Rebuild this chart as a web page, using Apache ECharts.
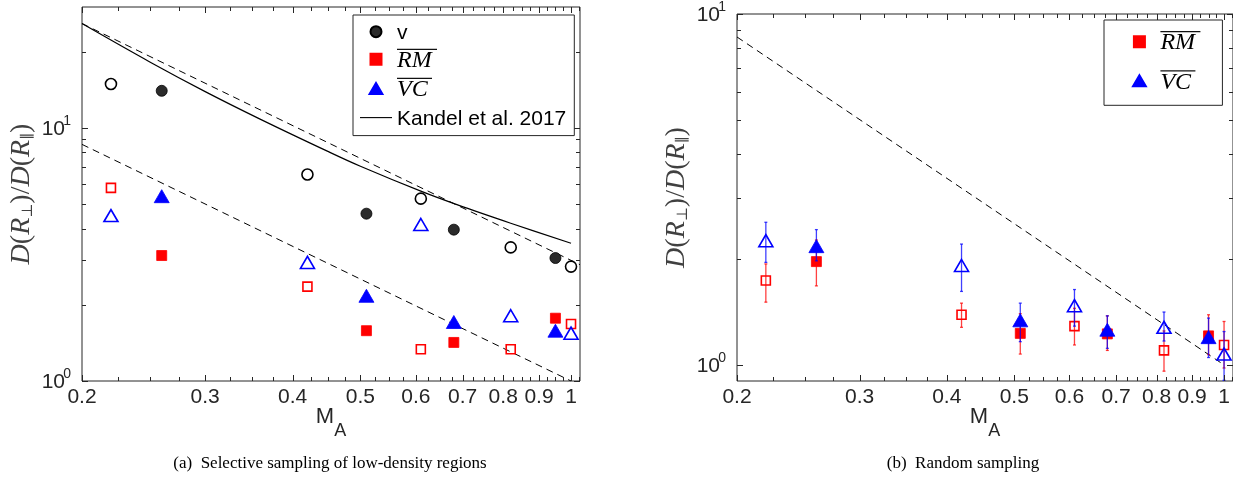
<!DOCTYPE html>
<html><head><meta charset="utf-8">
<script src="https://cdn.jsdelivr.net/npm/echarts@6/dist/echarts.min.js"></script>
<style>html,body{margin:0;padding:0;background:#fff}#c{width:1233px;height:484px}</style>
</head><body><div id="c"></div>
<script>
// ---------- ticks ----------
const xTickValues = [0.2, 0.3, 0.4, 0.5, 0.6, 0.7, 0.8, 0.9, 1];
const xTickLabels = ['0.2', '0.3', '0.4', '0.5', '0.6', '0.7', '0.8', '0.9', '1'];
const xMinorTicks = [0.225, 0.25, 0.275, 0.325, 0.35, 0.375, 0.425, 0.45, 0.475, 0.525, 0.55, 0.575,
  0.625, 0.65, 0.675, 0.725, 0.75, 0.775, 0.825, 0.85, 0.875, 0.925, 0.95, 0.975, 1.025];
const yTickValues = [1, 10];
const yTickExponents = ['0', '1'];
const yMinorTicksA = [2, 3, 4, 5, 6, 7, 8, 9, 20];
const yMinorTicksB = [2, 3, 4, 5, 6, 7, 8, 9];

// ---------- M_A positions ----------
const maOpen = [0.22, 0.42, 0.61, 0.82, 1.0];
const maFilled = [0.26, 0.51, 0.68, 0.95];

// ---------- (a) selective sampling ----------
const vOpenA = [14.9, 6.54, 5.25, 3.37, 2.83];
const vFilledA = [14.0, 4.58, 3.96, 3.06];
const rmOpenA = [5.79, 2.36, 1.335, 1.335, 1.68];
const rmFilledA = [3.13, 1.58, 1.42, 1.77];
const vcOpenA = [4.5, 2.94, 4.15, 1.81, 1.545];
const vcFilledA = [5.37, 2.17, 1.71, 1.58];
const kandelMA = [0.2, 0.25, 0.3, 0.36, 0.45, 0.5, 0.61, 0.69, 0.82, 1.0];
const kandelRatio = [25.8, 18.2, 13.9, 10.8, 8.05, 7.05, 5.62, 4.95, 4.2, 3.5];
const dashUpperMA = [0.2, 1.03];
const dashUpperRatio = [25.8, 2.88];
const dashLowerMA = [0.2, 1.0];
const dashLowerRatio = [8.6, 1.0];

// ---------- (b) random sampling ----------
const rmOpenB = [1.74, 1.39, 1.29, 1.10, 1.14];
const rmOpenLoB = [1.51, 1.28, 1.14, 0.96, 0.98];
const rmOpenHiB = [1.94, 1.50, 1.45, 1.25, 1.33];
const vcOpenB = [2.26, 1.92, 1.475, 1.28, 1.074];
const vcOpenLoB = [1.96, 1.62, 1.29, 1.17, 0.904];
const vcOpenHiB = [2.55, 2.21, 1.64, 1.415, 1.245];
const rmFilledB = [1.97, 1.23, 1.226, 1.21];
const rmFilledLoB = [1.68, 1.074, 1.10, 1.07];
const rmFilledHiB = [2.27, 1.40, 1.38, 1.39];
const vcFilledB = [2.18, 1.34, 1.26, 1.20];
const vcFilledLoB = [1.98, 1.165, 1.115, 1.05];
const vcFilledHiB = [2.43, 1.50, 1.38, 1.36];
const dashBMA = [0.2, 1.0];
const dashBRatio = [8.6, 1.0];

// ---------- build ----------
const X_RANGE = [0.2, 1.03];
const Y_RANGE = [[1, 30], [0.9, 10]];
const AX = '#262626';
const SANS = "'Liberation Sans', Arial, sans-serif";
const SERIF = "'Liberation Serif', 'Times New Roman', serif";

const zip = (a, b) => a.map((v, i) => [v, b[i]]);
const zip3 = (a, b, c) => a.map((v, i) => [v, b[i], c[i]]);
const px = v => Math.round(v) + 0.5;

function xTicks(gi, values, labels, len) {
  const yr = Y_RANGE[gi];
  return {
    type: 'custom', xAxisIndex: gi, yAxisIndex: gi, silent: true, z: 20,
    data: values.map(v => [v, yr[0]]), encode: { x: 0, y: 1 },
    renderItem: (params, api) => {
      const v = api.value(0);
      const b = api.coord([v, yr[0]]), t = api.coord([v, yr[1]]);
      const x = px(b[0]);
      const ch = [
        { type: 'line', shape: { x1: x, y1: b[1], x2: x, y2: b[1] - len }, style: { stroke: AX, lineWidth: 1 } },
        { type: 'line', shape: { x1: x, y1: t[1], x2: x, y2: t[1] + len }, style: { stroke: AX, lineWidth: 1 } }
      ];
      if (labels) ch.push({ type: 'text', x: b[0], y: b[1] + 16,
        style: { text: labels[params.dataIndex], fontSize: 21, fontFamily: SANS, fill: AX, align: 'center', verticalAlign: 'middle' } });
      return { type: 'group', children: ch };
    }
  };
}
function yTicks(gi, values, exps, len) {
  return {
    type: 'custom', xAxisIndex: gi, yAxisIndex: gi, silent: true, z: 20,
    data: values.map(v => [X_RANGE[0], v]), encode: { x: 0, y: 1 },
    renderItem: (params, api) => {
      const v = api.value(1);
      const l = api.coord([X_RANGE[0], v]), r = api.coord([X_RANGE[1], v]);
      const y = px(l[1]);
      const ch = [
        { type: 'line', shape: { x1: l[0], y1: y, x2: l[0] + len, y2: y }, style: { stroke: AX, lineWidth: 1 } },
        { type: 'line', shape: { x1: r[0], y1: y, x2: r[0] - len, y2: y }, style: { stroke: AX, lineWidth: 1 } }
      ];
      if (exps) {
        ch.push({ type: 'text', x: l[0] - 11, y: l[1] - 7,
          style: { text: exps[params.dataIndex], fontSize: 14, fontFamily: SANS, fill: AX, align: 'right', verticalAlign: 'middle' } });
        ch.push({ type: 'text', x: l[0] - 17, y: l[1] + 1,
          style: { text: '10', fontSize: 21, fontFamily: SANS, fill: AX, align: 'right', verticalAlign: 'middle' } });
      }
      return { type: 'group', children: ch };
    }
  };
}
function errBars(gi, xs, lo, hi, color, z) {
  return {
    type: 'custom', xAxisIndex: gi, yAxisIndex: gi, silent: true, z: z,
    data: zip3(xs, lo, hi), encode: { x: 0, y: [1, 2] },
    renderItem: (params, api) => {
      const x = api.value(0);
      const a = api.coord([x, api.value(1)]), b = api.coord([x, api.value(2)]);
      const st = { stroke: color, lineWidth: 1.3, opacity: 0.75 };
      return { type: 'group', children: [
        { type: 'line', shape: { x1: a[0], y1: a[1], x2: b[0], y2: b[1] }, style: st },
        { type: 'line', shape: { x1: a[0] - 1.5, y1: a[1], x2: a[0] + 1.5, y2: a[1] }, style: st },
        { type: 'line', shape: { x1: b[0] - 1.5, y1: b[1], x2: b[0] + 1.5, y2: b[1] }, style: st }
      ] };
    }
  };
}
function scatter(gi, name, data, symbol, size, fill, stroke, z) {
  return {
    type: 'scatter', name: name, xAxisIndex: gi, yAxisIndex: gi, data: data, z: z,
    symbol: symbol, symbolSize: size, silent: true,
    itemStyle: { color: fill, borderColor: stroke, borderWidth: fill === 'transparent' ? 1.6 : 0.8, opacity: 1 }
  };
}
function line(gi, name, data, dashed, w) {
  return {
    type: 'line', name: name, xAxisIndex: gi, yAxisIndex: gi, data: data, z: 3,
    showSymbol: false, symbol: 'none', smooth: dashed ? false : 0.35, silent: true,
    itemStyle: { color: '#000' },
    lineStyle: { color: '#000', width: w, type: dashed ? [7, 5] : 'solid' }
  };
}

const RED = '#ff0000', BLUE = '#0000ff';
const series = [
  // panel (a)
  line(0, 'dashU', zip(dashUpperMA, dashUpperRatio), true, 1),
  line(0, 'dashL', zip(dashLowerMA, dashLowerRatio), true, 1),
  line(0, 'Kandel et al. 2017', zip(kandelMA, kandelRatio), false, 1.2),
  scatter(0, 'vOpen', zip(maOpen, vOpenA), 'circle', 11, 'transparent', '#000', 5),
  scatter(0, 'v', zip(maFilled, vFilledA), 'circle', 11, '#2b2b2b', '#000', 5),
  scatter(0, 'rmOpen', zip(maOpen, rmOpenA), 'rect', 9, 'transparent', RED, 5),
  scatter(0, 'RM', zip(maFilled, rmFilledA), 'rect', 10, RED, RED, 5),
  scatter(0, 'vcOpen', zip(maOpen, vcOpenA), 'triangle', [14, 12], 'transparent', BLUE, 5),
  scatter(0, 'VC', zip(maFilled, vcFilledA), 'triangle', [15, 13], BLUE, BLUE, 5),
  // panel (b)
  line(1, 'dashB', zip(dashBMA, dashBRatio), true, 1),
  errBars(1, maOpen, rmOpenLoB, rmOpenHiB, RED, 4),
  errBars(1, maFilled, rmFilledLoB, rmFilledHiB, RED, 4),
  scatter(1, 'rmOpenB', zip(maOpen, rmOpenB), 'rect', 9, 'transparent', RED, 5),
  scatter(1, 'RM_b', zip(maFilled, rmFilledB), 'rect', 10, RED, RED, 5),
  errBars(1, maOpen, vcOpenLoB, vcOpenHiB, BLUE, 6),
  errBars(1, maFilled, vcFilledLoB, vcFilledHiB, BLUE, 6),
  scatter(1, 'vcOpenB', zip(maOpen, vcOpenB), 'triangle', [14, 12], 'transparent', BLUE, 7),
  scatter(1, 'VC_b', zip(maFilled, vcFilledB), 'triangle', [15, 13], BLUE, BLUE, 7),
  // ticks
  xTicks(0, xTickValues, xTickLabels, 6), xTicks(0, xMinorTicks, null, 4),
  yTicks(0, yTickValues, yTickExponents, 6), yTicks(0, yMinorTicksA, null, 4),
  xTicks(1, xTickValues, xTickLabels, 6), xTicks(1, xMinorTicks, null, 4),
  yTicks(1, yTickValues, yTickExponents, 6), yTicks(1, yMinorTicksB, null, 4)
];

const yName = '{i|D}{u|(}{i|R}{s|⊥}{u|)}{u|/}{i|D}{u|(}{i|R}{s|∥}{u|)}';
const yNameStyle = { color: '#404040', rich: {
  i: { fontFamily: SERIF, fontStyle: 'italic', fontSize: 28, color: '#404040' },
  u: { fontFamily: SERIF, fontSize: 28, color: '#404040' },
  s: { fontFamily: "'DejaVu Serif', serif", fontSize: 15, color: '#404040', verticalAlign: 'bottom', lineHeight: 25 }
} };
const xName = '{m|M}{s|A}';
const xNameStyle = { rich: {
  m: { fontFamily: SANS, fontSize: 22, color: AX, lineHeight: 34, verticalAlign: 'top' },
  s: { fontFamily: SANS, fontSize: 18, color: AX, lineHeight: 34, verticalAlign: 'bottom' }
} };

function xAxis(gi) {
  return { type: 'log', logBase: 10, gridIndex: gi, min: X_RANGE[0], max: X_RANGE[1],
    axisLine: { show: false }, axisTick: { show: false }, axisLabel: { show: false }, splitLine: { show: false },
    name: xName, nameLocation: 'middle', nameGap: 25, nameTextStyle: xNameStyle };
}
function yAxis(gi) {
  return { type: 'log', logBase: 10, gridIndex: gi, min: Y_RANGE[gi][0], max: Y_RANGE[gi][1],
    axisLine: { show: false }, axisTick: { show: false }, axisLabel: { show: false }, splitLine: { show: false },
    name: yName, nameLocation: 'middle', nameGap: 46, nameTextStyle: yNameStyle };
}

const legendRich = {
  ol: { width: 40, height: 1.3, lineHeight: 3, backgroundColor: '#111', fontSize: 1 },
  ol2: { width: 35, height: 1.3, lineHeight: 3, backgroundColor: '#111', fontSize: 1 },
  olx: { width: 10, height: 1.3, lineHeight: 3, fontSize: 1 },
  it: { fontFamily: SERIF, fontStyle: 'italic', fontSize: 24, lineHeight: 20, color: '#000', width: 40 },
  sf: { fontFamily: SANS, fontSize: 21, lineHeight: 20, color: '#000' }
};
const legendText = {
  'v': '{olx| }\n{sf|v}',
  'RM': '{ol| }\n{it|RM}',
  'VC': '{ol2| }\n{it|VC}',
  'Kandel et al. 2017': '{olx| }\n{sf|Kandel et al. 2017}',
  'RM_b': '{ol| }\n{it|RM}',
  'VC_b': '{ol2| }\n{it|VC}'
};
const ICON_SQUARE = 'path://M0,0L10,0L10,10L0,10Z';
const ICON_TRI = 'path://M7,0L14,12L0,12Z';
const ICON_LINE = 'path://M0,0L32,0L32,1.1L0,1.1Z';

const option = {
  animation: false,
  backgroundColor: '#fff',
  grid: [
    { left: 82, top: 7, width: 498, height: 374, show: true, borderColor: AX, borderWidth: 1, backgroundColor: 'transparent', containLabel: false },
    { left: 737, top: 14, width: 498, height: 367, show: true, borderColor: AX, borderWidth: 1, backgroundColor: 'transparent', containLabel: false }
  ],
  xAxis: [xAxis(0), xAxis(1)],
  yAxis: [yAxis(0), yAxis(1)],
  legend: [
    { data: [{ name: 'v', icon: 'circle' }, { name: 'RM', icon: ICON_SQUARE }, { name: 'VC', icon: ICON_TRI },
             { name: 'Kandel et al. 2017', icon: ICON_LINE }],
      orient: 'vertical', left: 353, top: 15, symbolKeepAspect: true,
      padding: [6, 8, 6, 7], itemGap: 5, itemWidth: 32, itemHeight: 11, selectedMode: false,
      borderColor: AX, borderWidth: 1, backgroundColor: '#fff', z: 30,
      formatter: n => legendText[n], textStyle: { rich: legendRich } },
    { data: [{ name: 'RM_b', icon: ICON_SQUARE }, { name: 'VC_b', icon: ICON_TRI }],
      orient: 'vertical', left: 1104, top: 20, symbolKeepAspect: true,
      padding: [11, 22, 11, 28], itemGap: 15, itemWidth: 32, itemHeight: 11, selectedMode: false,
      borderColor: AX, borderWidth: 1, backgroundColor: '#fff', z: 30,
      formatter: n => legendText[n], textStyle: { rich: legendRich } }
  ],
  graphic: [
    { type: 'text', x: 330, y: 455, style: { text: '(a)  Selective sampling of low-density regions', font: "17px 'Liberation Serif', serif", fill: '#000', align: 'center' } },
    { type: 'text', x: 963, y: 455, style: { text: '(b)  Random sampling', font: "17px 'Liberation Serif', serif", fill: '#000', align: 'center' } }
  ],
  series: series
};

const chart = echarts.init(document.getElementById('c'));
chart.setOption(option);
</script>
</body></html>
